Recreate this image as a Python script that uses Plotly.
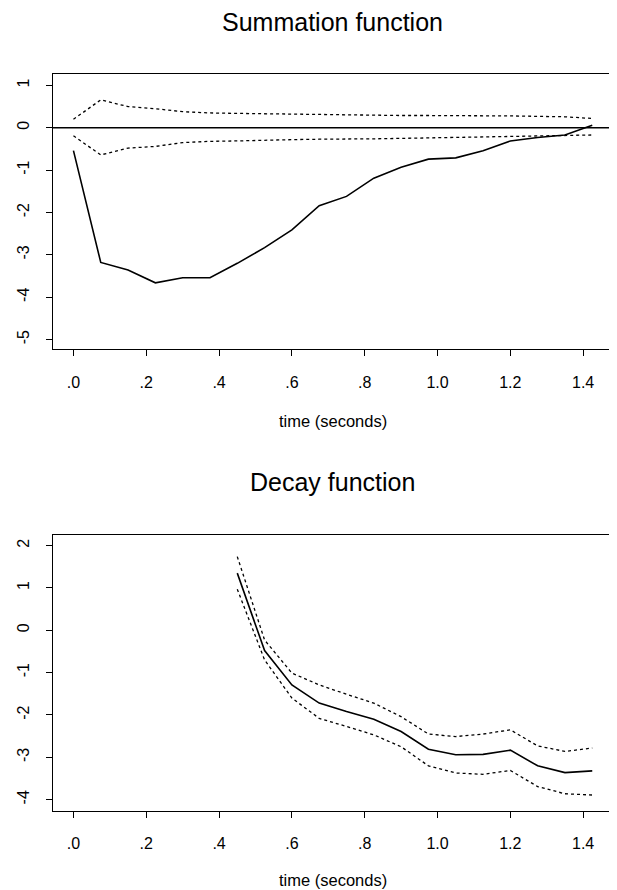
import plotly.graph_objects as go

# ---- data ----
time_sum = [0.0, 0.075, 0.15, 0.225, 0.3, 0.375, 0.45, 0.525, 0.6, 0.675,
            0.75, 0.825, 0.9, 0.975, 1.05, 1.125, 1.2, 1.275, 1.35, 1.425]
sum_est = [-0.54, -3.18, -3.36, -3.66, -3.54, -3.54, -3.20, -2.83, -2.41, -1.84,
           -1.62, -1.19, -0.93, -0.74, -0.71, -0.54, -0.31, -0.23, -0.17, 0.06]
sum_upper = [0.20, 0.66, 0.50, 0.45, 0.38, 0.35, 0.34, 0.33, 0.32, 0.32,
             0.31, 0.30, 0.29, 0.29, 0.29, 0.28, 0.28, 0.27, 0.26, 0.22]
sum_lower = [-0.19, -0.64, -0.48, -0.44, -0.35, -0.32, -0.31, -0.29, -0.28, -0.27,
             -0.27, -0.26, -0.25, -0.24, -0.23, -0.22, -0.21, -0.20, -0.19, -0.17]

time_decay = [0.45, 0.525, 0.6, 0.675, 0.75, 0.825, 0.9, 0.975, 1.05, 1.125,
              1.2, 1.275, 1.35, 1.425]
decay_est = [1.35, -0.48, -1.29, -1.72, -1.92, -2.10, -2.39, -2.81, -2.94, -2.93,
             -2.83, -3.20, -3.36, -3.32]
decay_upper = [1.74, -0.23, -1.01, -1.29, -1.51, -1.72, -2.04, -2.45, -2.51, -2.45,
               -2.35, -2.73, -2.86, -2.78]
decay_lower = [0.97, -0.70, -1.60, -2.08, -2.27, -2.47, -2.75, -3.20, -3.37, -3.40,
               -3.31, -3.69, -3.86, -3.89]

x_tickvals = [0.0, 0.2, 0.4, 0.6, 0.8, 1.0, 1.2, 1.4]
x_ticktext = [".0", ".2", ".4", ".6", ".8", "1.0", "1.2", "1.4"]
y1_tickvals = [1, 0, -1, -2, -3, -4, -5]
y2_tickvals = [2, 1, 0, -1, -2, -3, -4]

titles = ["Summation function", "Decay function"]
x_title = "time (seconds)"

FONT = "Liberation Sans, Arial, Helvetica, sans-serif"

fig = go.Figure()

def add_band(x, est, up, lo, xa, ya):
    for ys, dash, w in ((up, "dot", 1.3), (lo, "dot", 1.3), (est, "solid", 1.6)):
        fig.add_trace(go.Scatter(x=x, y=ys, mode="lines", xaxis=xa, yaxis=ya,
                                 line=dict(color="black", width=w, dash=dash),
                                 showlegend=False, hoverinfo="skip"))

add_band(time_sum, sum_est, sum_upper, sum_lower, "x", "y")
add_band(time_decay, decay_est, decay_upper, decay_lower, "x2", "y2")

# page body has an 8px margin: work in screen pixels, shift by OFF
OFF = 8
W, H = 617 - OFF, 890 - OFF

def px(s):
    return (s - OFF) / W

def py(s):
    return 1 - (s - OFF) / H

xdom = [px(52.7), px(613)]
dom1 = [py(349.3), py(74)]
dom2 = [py(810.7), py(535)]

axis_common = dict(showline=True, linecolor="black", linewidth=1, mirror=True,
                   showgrid=False, zeroline=False, ticks="outside", ticklen=6,
                   tickcolor="black", tickwidth=1,
                   tickfont=dict(family=FONT, size=16, color="black"))

xr = [-0.057, 1.482]
fig.update_layout(
    width=W, height=H, margin=dict(l=0, r=0, t=0, b=0),
    paper_bgcolor="white", plot_bgcolor="white",
    xaxis=dict(domain=xdom, range=xr, anchor="y", tickvals=x_tickvals,
               ticktext=x_ticktext, ticklabelstandoff=12, **axis_common),
    yaxis=dict(domain=dom1, range=[-5.23, 1.27], anchor="x", tickvals=y1_tickvals,
               ticktext=[str(v) for v in y1_tickvals],
               tickangle=-90, ticklabelstandoff=10, **axis_common),
    xaxis2=dict(domain=xdom, range=xr, anchor="y2", tickvals=x_tickvals,
                ticktext=x_ticktext, ticklabelstandoff=12, **axis_common),
    yaxis2=dict(domain=dom2, range=[-4.26, 2.25], anchor="x2", tickvals=y2_tickvals,
                ticktext=[str(v) for v in y2_tickvals],
                tickangle=-90, ticklabelstandoff=10, **axis_common),
)

# horizontal reference line at 0 in the summation panel
fig.add_shape(type="line", xref="x domain", yref="y", x0=0, x1=1, y0=0, y1=0,
              line=dict(color="black", width=1.5))

# titles and axis titles
cx = (xdom[0] + xdom[1]) / 2
ann = [
    (titles[0], py(22), 25),
    (titles[1], py(482), 25),
    (x_title, py(421), 16.5),
    (x_title, py(880), 16.5),
]
for text, y, size in ann:
    fig.add_annotation(text=text, x=cx, y=y, xref="paper", yref="paper",
                       showarrow=False, xanchor="center", yanchor="middle",
                       font=dict(family=FONT, size=size, color="black"))

fig.write_html("out.html")
